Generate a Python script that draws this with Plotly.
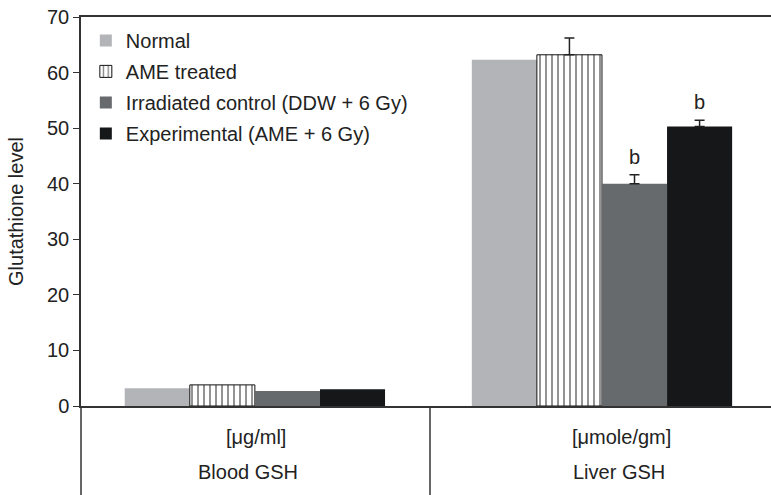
import plotly.graph_objects as go

groups = ["Blood GSH", "Liver GSH"]
units = ["[\u03bcg/ml]", "[\u03bcmole/gm]"]
series = ["Normal", "AME treated", "Irradiated control (DDW + 6 Gy)", "Experimental (AME + 6 Gy)"]
values = {
    "Normal": [3.2, 62.3],
    "AME treated": [3.8, 63.2],
    "Irradiated control (DDW + 6 Gy)": [2.7, 40.0],
    "Experimental (AME + 6 Gy)": [3.0, 50.3],
}
errors = {
    "Normal": [None, None],
    "AME treated": [None, 3.0],
    "Irradiated control (DDW + 6 Gy)": [None, 1.6],
    "Experimental (AME + 6 Gy)": [None, 1.1],
}
sig_labels = {
    "Irradiated control (DDW + 6 Gy)": ["", "b"],
    "Experimental (AME + 6 Gy)": ["", "b"],
}
colors = ["#b3b4b8", "#ffffff", "#676a6d", "#161719"]
yticks = [0, 10, 20, 30, 40, 50, 60, 70]

FONT = "Arial, Liberation Sans, sans-serif"
FS = 20
BARGAP = 0.25
fig = go.Figure()
for i, s in enumerate(series):
    marker = dict(color=colors[i], line=dict(width=0))
    if s == "AME treated":
        marker = dict(color="white", line=dict(color="#111", width=1),
                      pattern=dict(shape="|", fgcolor="#111", bgcolor="white", size=6, solidity=0.3))
    for gi in range(len(groups)):
        err = errors[s][gi]
        fig.add_trace(go.Bar(
            x=[gi], y=[values[s][gi]], name=s, marker=marker,
            error_y=dict(type="data", array=[err], arrayminus=[0], symmetric=False,
                         visible=err is not None, color="#222", thickness=1.5, width=5),
            legendgroup=s, offsetgroup=str(i), showlegend=(gi == 0),
        ))

fig.update_layout(
    width=771, height=495,
    margin=dict(l=81, r=0, t=17, b=89),
    paper_bgcolor="white", plot_bgcolor="white",
    barmode="group", bargap=BARGAP, bargroupgap=0,
    font=dict(family=FONT, size=FS, color="#222"),
    showlegend=True,
    legend=dict(x=0.007, y=0.99, xanchor="left", yanchor="top",
                font=dict(size=FS, family=FONT, color="#222"),
                bgcolor="rgba(0,0,0,0)", tracegroupgap=2, traceorder="grouped"),
    xaxis=dict(range=[-0.501, 1.487], showticklabels=False, ticks="",
               showgrid=False, zeroline=False, showline=True, linecolor="#333",
               linewidth=2, mirror=True, automargin=False),
    yaxis=dict(range=[0, 70], tickvals=yticks, ticks="outside", ticklen=6,
               tickcolor="#333", showgrid=False, zeroline=False, showline=True,
               linecolor="#333", linewidth=1.5, automargin=False,
               ticklabeloverflow="allow",
               title=dict(text="Glutathione level", font=dict(size=FS), standoff=18),
               tickfont=dict(size=FS)),
)

# significance letters above error bars (positioned from the data arrays)
nser = len(series)
for i, s in enumerate(series):
    labs = sig_labels.get(s)
    if not labs:
        continue
    for gi, lab in enumerate(labs):
        if not lab:
            continue
        top = values[s][gi] + (errors[s][gi] or 0)
        width = (1 - BARGAP) / nser
        xc = gi - (1 - BARGAP) / 2 + width * (i + 0.5)
        fig.add_annotation(x=xc, y=top, xref="x", yref="y", text=lab, showarrow=False,
                           xanchor="center", yanchor="bottom", yshift=5, font=dict(size=FS))

# lower category panel lines
fig.add_shape(type="line", xref="paper", yref="paper", x0=0, x1=0, y0=0, y1=-89/389,
              line=dict(color="#333", width=1.5))
fig.add_shape(type="line", xref="paper", yref="paper", x0=(430-81)/690, x1=(430-81)/690,
              y0=0, y1=-89/389, line=dict(color="#333", width=1.5))

unit_x = [(256-81)/690, (621-81)/690]
group_x = [(248-81)/690, (619-81)/690]
for ux, gx, u, g in zip(unit_x, group_x, units, groups):
    fig.add_annotation(x=ux, y=-(437-406)/389, xref="paper", yref="paper", text=u,
                       showarrow=False, xanchor="center", yanchor="middle", font=dict(size=FS))
    fig.add_annotation(x=gx, y=-(472-406)/389, xref="paper", yref="paper", text=g,
                       showarrow=False, xanchor="center", yanchor="middle", font=dict(size=FS))

fig.write_html("out.html", config={"displayModeBar": False},
               post_script="document.body.style.margin='0';")
